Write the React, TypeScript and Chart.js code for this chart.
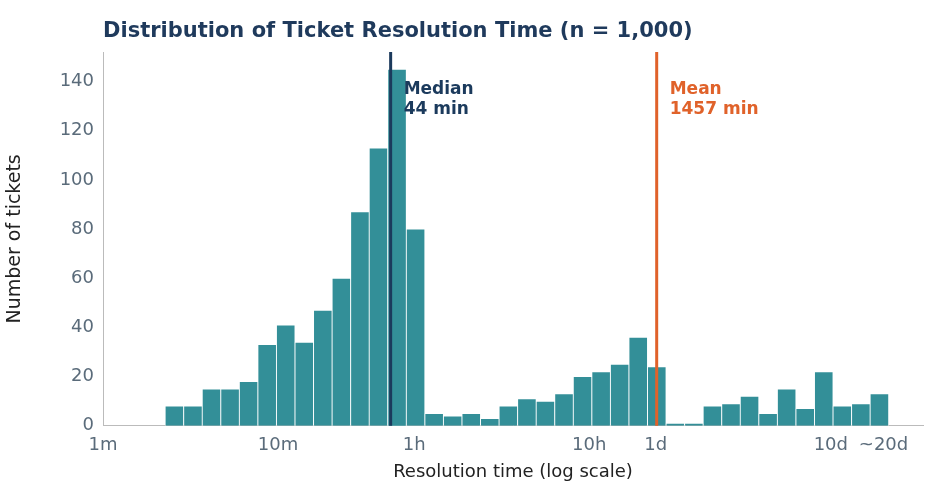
import React, { useEffect, useRef } from "react";
import { Chart, registerables } from "chart.js";
Chart.register(...registerables);

const counts = [8,8,15,15,18,33,41,34,47,60,87,113,145,80,5,4,5,3,8,11,10,13,20,22,25,36,24,1,1,8,9,12,5,15,7,22,8,9,13];
const binStartLog = 0.355;
const binWidthLog = 0.106;
const tickValuesMin = [1, 10, 60, 600, 1440, 14400, 28800];
const tickLabels = ["1m", "10m", "1h", "10h", "1d", "10d", "~20d"];
const medianMin = 44;
const meanMin = 1457;
const titleText = "Distribution of Ticket Resolution Time (n = 1,000)";

export default function App() {
  const ref = useRef<HTMLCanvasElement>(null);
  useEffect(() => {
    const data = counts.map((c, i) => ({ x: binStartLog + binWidthLog * (i + 0.5), y: c }));
    const tickPos = tickValuesMin.map((v) => Math.log10(v));
    const lines = {
      id: "lines",
      afterDatasetsDraw(chart: any) {
        const { ctx, scales, chartArea } = chart;
        const items = [
          { v: medianMin, c: "#1b3a5c", t: ["Median", "44 min"] },
          { v: meanMin, c: "#e0622a", t: ["Mean", "1457 min"] },
        ];
        ctx.save();
        for (const it of items) {
          const x = scales.x.getPixelForValue(Math.log10(it.v));
          ctx.strokeStyle = it.c;
          ctx.lineWidth = 3;
          ctx.beginPath();
          ctx.moveTo(x, chartArea.top);
          ctx.lineTo(x, chartArea.bottom);
          ctx.stroke();
          ctx.fillStyle = it.c;
          ctx.font = "bold 17px 'DejaVu Sans'";
          ctx.textBaseline = "middle";
          ctx.fillText(it.t[0], x + 13, 90);
          ctx.fillText(it.t[1], x + 13, 110);
        }
        ctx.fillStyle = "#1f3a5c";
        ctx.font = "bold 21px 'DejaVu Sans'";
        ctx.textBaseline = "middle";
        ctx.fillText(titleText, chartArea.left, 32);
        ctx.restore();
      },
    };
    const chart = new Chart(ref.current!, {
      type: "bar",
      data: {
        datasets: [{
          data,
          backgroundColor: "#338f98",
          borderColor: "#ffffff",
          borderWidth: 0.8,
          barPercentage: 1,
          categoryPercentage: 1,
        }],
      },
      options: {
        animation: false,
        responsive: false,
        layout: { padding: { left: 0, right: 22, top: 52, bottom: 16 } },
        plugins: { legend: { display: false }, tooltip: { enabled: false } },
        scales: {
          x: {
            type: "linear",
            min: 0,
            max: 4.685,
            offset: false,
            grid: { display: false, drawTicks: true, tickLength: 6, tickColor: "#555" } as any,
            border: { color: "#bbb" },
            afterBuildTicks: (axis: any) => { axis.ticks = tickPos.map((v) => ({ value: v })); },
            ticks: {
              autoSkip: false,
              maxRotation: 0,
              color: "#5a6b7a",
              font: { family: "'DejaVu Sans'", size: 18 },
              callback: (v: any) => {
                const i = tickPos.findIndex((p) => Math.abs(p - v) < 1e-6);
                return i >= 0 ? tickLabels[i] : "";
              },
            },
            title: { display: true, text: "Resolution time (log scale)", color: "#222", font: { family: "'DejaVu Sans'", size: 18 }, padding: { top: 2 } },
          },
          y: {
            min: 0,
            max: 152,
            afterFit: (axis: any) => { axis.width = 103; },
            afterBuildTicks: (axis: any) => { axis.ticks = [0, 20, 40, 60, 80, 100, 120, 140].map((v) => ({ value: v })); },
            grid: { display: false, tickLength: 6, tickColor: "#555" } as any,
            border: { color: "#bbb" },
            ticks: { color: "#5a6b7a", font: { family: "'DejaVu Sans'", size: 18 } },
            title: { display: true, text: "Number of tickets", color: "#222", font: { family: "'DejaVu Sans'", size: 19 }, padding: { bottom: 14 } },
          },
        },
      },
      plugins: [lines],
    } as any);
    return () => chart.destroy();
  }, []);
  return (
    <div style={{ position: "fixed", left: 0, top: 0, width: 945, height: 503, background: "#fff" }}>
      <canvas ref={ref} width={945} height={503} />
    </div>
  );
}
